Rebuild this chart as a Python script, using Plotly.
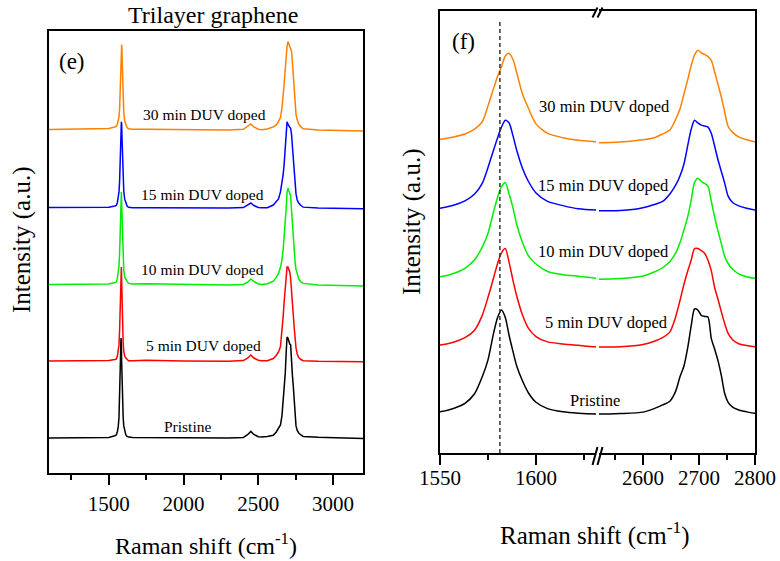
import plotly.graph_objects as go

# ---------------- data ----------------
shift = [1100, 1300, 1500, 1540,
         1550, 1557, 1563, 1568, 1572, 1575, 1578, 1580, 1582, 1584, 1586, 1588, 1590, 1593, 1596, 1600,
         1606, 1614, 1622, 1632,
         1660, 1750, 2000, 2300, 2400, 2430, 2450, 2470, 2500,
         2523, 2560, 2600, 2620, 2635, 2648, 2658, 2666, 2673, 2680, 2686, 2692, 2698, 2704, 2710, 2716,
         2722, 2728, 2734, 2740, 2746, 2752, 2760, 2770, 2785, 2800,
         2900, 3050, 3200]

pristine = [0.0, 0.0, 0.006, 0.022,
            0.03, 0.062, 0.11, 0.2, 0.36, 0.52, 0.78, 0.92, 0.99, 0.92, 0.75, 0.6, 0.46, 0.32, 0.21, 0.12,
            0.06, 0.03, 0.017, 0.009,
            0.006, 0.005, 0.002, 0.0, 0.006, 0.035, 0.065, 0.035, 0.012,
            0.009, 0.014, 0.027, 0.06, 0.095, 0.13, 0.22, 0.36, 0.46, 0.64, 0.84, 1.0, 0.99, 0.94, 0.93, 0.925,
            0.72, 0.62, 0.51, 0.37, 0.2, 0.12, 0.075, 0.05, 0.03, 0.016,
            0.008, 0.002, -0.004]

duv_5min = [0.0, 0.0, 0.005, 0.015,
            0.02, 0.047, 0.09, 0.16, 0.3, 0.47, 0.66, 0.79, 0.89, 0.93, 0.8, 0.63, 0.48, 0.3, 0.18, 0.1,
            0.05, 0.03, 0.017, 0.003,
            0.004, 0.008, 0.0, -0.002, 0.005, 0.03, 0.06, 0.03, 0.008,
            0.002, 0.004, 0.025, 0.055, 0.09, 0.144, 0.28, 0.44, 0.59, 0.72, 0.82, 0.93, 0.93, 0.91, 0.885, 0.82,
            0.72, 0.56, 0.45, 0.33, 0.22, 0.13, 0.07, 0.035, 0.015, 0.003,
            -0.003, -0.005, -0.008]

duv_10min = [0.005, 0.005, 0.01, 0.024,
             0.03, 0.06, 0.11, 0.19, 0.31, 0.44, 0.65, 0.78, 0.88, 0.92, 0.81, 0.68, 0.52, 0.35, 0.23, 0.15,
             0.08, 0.05, 0.035, 0.016,
             0.01, 0.012, 0.005, 0.0, 0.006, 0.03, 0.06, 0.035, 0.01,
             0.006, 0.013, 0.038, 0.075, 0.115, 0.175, 0.25, 0.35, 0.47, 0.6, 0.75, 0.92, 0.96, 0.93, 0.91, 0.885,
             0.74, 0.59, 0.46, 0.34, 0.22, 0.155, 0.1, 0.06, 0.03, 0.016,
             0.0, -0.005, -0.01]

duv_15min = [0.005, 0.005, 0.008, 0.02,
             0.025, 0.053, 0.095, 0.16, 0.26, 0.41, 0.58, 0.69, 0.79, 0.855, 0.83, 0.71, 0.57, 0.4, 0.28, 0.17,
             0.09, 0.05, 0.02, 0.008,
             0.004, 0.003, 0.0, 0.0, 0.005, 0.03, 0.05, 0.025, 0.005,
             0.002, 0.004, 0.03, 0.06, 0.09, 0.16, 0.24, 0.33, 0.44, 0.62, 0.77, 0.855, 0.83, 0.81, 0.8, 0.79,
             0.73, 0.61, 0.48, 0.37, 0.26, 0.14, 0.08, 0.05, 0.025, 0.009,
             0.0, -0.005, -0.008]

duv_30min = [0.005, 0.008, 0.015, 0.03,
             0.035, 0.057, 0.085, 0.13, 0.2, 0.35, 0.52, 0.63, 0.72, 0.82, 0.845, 0.79, 0.66, 0.46, 0.33, 0.18,
             0.09, 0.05, 0.025, 0.012,
             0.008, 0.006, 0.003, 0.0, 0.006, 0.035, 0.06, 0.03, 0.008,
             0.003, 0.01, 0.03, 0.05, 0.085, 0.123, 0.22, 0.32, 0.46, 0.6, 0.73, 0.83, 0.875, 0.85, 0.835, 0.815,
             0.78, 0.67, 0.55, 0.43, 0.29, 0.155, 0.1, 0.06, 0.03, 0.012,
             0.0, -0.004, -0.01]

series_names = ["Pristine", "5 min DUV doped", "10 min DUV doped", "15 min DUV doped", "30 min DUV doped"]
series_values = [pristine, duv_5min, duv_10min, duv_15min, duv_30min]
series_colors = ["#000000", "#FF0000", "#00EE00", "#0000FF", "#FF8000"]

offsets_e = [0.0, 0.762, 1.515, 2.277, 3.05]     # vertical stacking, panel (e)
offsets_f = [0.0, 0.64, 1.274, 1.925, 2.566]     # vertical stacking, panel (f)

g_reference = 1581.2                                # dashed reference line, panel (f)

ticks_e = [1500, 2000, 2500, 3000]
minor_e = [1250, 1750, 2250, 2750]
ticks_f1 = [1550, 1600]
minor_f1 = [1575, 1625]
ticks_f2 = [2600, 2700, 2800]
minor_f2 = [2550, 2650, 2750]

for v in series_values:
    assert len(v) == len(shift)

# ---------------- layout helpers ----------------
W, H = 780, 561
def PX(x):
    return x / W
def PY(y):
    return 1 - y / H

FONT = "Liberation Serif, Times New Roman, serif"

fig = go.Figure()

for name, vals, col, oe, of in zip(series_names, series_values, series_colors, offsets_e, offsets_f):
    fig.add_trace(go.Scatter(x=shift, y=[v + oe for v in vals], mode="lines",
                             line=dict(color=col, width=1.5), name=name,
                             xaxis="x", yaxis="y", showlegend=False, hoverinfo="skip"))
    for xa, ya in (("x2", "y2"), ("x3", "y3")):
        fig.add_trace(go.Scatter(x=shift, y=[v + of for v in vals], mode="lines",
                                 line=dict(color=col, width=1.5, shape="spline", smoothing=0.7), name=name,
                                 xaxis=xa, yaxis=ya, showlegend=False, hoverinfo="skip"))

tickfont = dict(family=FONT, size=21, color="black")
common_x = dict(showgrid=False, zeroline=False, showline=True, linecolor="black", linewidth=2,
                ticks="outside", ticklen=10, tickwidth=2, tickcolor="black", tickfont=tickfont,
                automargin=False, fixedrange=True)
common_y = dict(showgrid=False, zeroline=False, showline=True, linecolor="black", linewidth=2,
                ticks="", showticklabels=False, automargin=False, fixedrange=True)

# panel (e)
yE_bot, yE_top = 473, 31
fig.update_layout(
    xaxis=dict(domain=[PX(49), PX(363)], range=[1100, 3200], anchor="y", mirror=True,
               tickvals=ticks_e, ticktext=[str(t) for t in ticks_e],
               minor=dict(tickvals=minor_e, ticks="outside", ticklen=5, tickwidth=2, tickcolor="black"),
               ticklabelstandoff=1, **common_x),
    xaxis4=dict(domain=[PX(49), PX(363)], range=[1100, 3200], anchor="y", overlaying="x", side="top",
                showgrid=False, zeroline=False, showline=False, ticks="inside", ticklen=4, tickwidth=1.5,
                tickcolor="black", tickvals=ticks_e + minor_e, showticklabels=False, fixedrange=True),
    yaxis=dict(domain=[PY(yE_bot), PY(yE_top)], range=[-0.3465, 4.03], anchor="x", mirror=True, **common_y),
)

# panel (f) with broken axis
yF_bot, yF_top = 453, 11
fig.update_layout(
    xaxis2=dict(domain=[PX(440), PX(596)], range=[1550, 1631.25], anchor="y2", mirror=True,
                tickvals=ticks_f1, ticktext=[str(t) for t in ticks_f1],
                minor=dict(tickvals=minor_f1, ticks="outside", ticklen=5, tickwidth=2, tickcolor="black"),
                ticklabelstandoff=-5, **common_x),
    xaxis3=dict(domain=[PX(599), PX(755)], range=[2521.4, 2800], anchor="y3", mirror=True,
                tickvals=ticks_f2, ticktext=[str(t) for t in ticks_f2],
                minor=dict(tickvals=minor_f2, ticks="outside", ticklen=5, tickwidth=2, tickcolor="black"),
                ticklabelstandoff=-5, **common_x),
    yaxis2=dict(domain=[PY(yF_bot), PY(yF_top)], range=[-0.3585, 3.811], anchor="x2", side="left", **common_y),
    yaxis3=dict(domain=[PY(yF_bot), PY(yF_top)], range=[-0.3585, 3.811], anchor="x3", side="right", **common_y),
)

shapes = [
    dict(type="line", xref="x2", yref="y2", x0=g_reference, x1=g_reference, y0=-0.3585, y1=3.71,
         line=dict(color="#333333", width=1.5, dash="4px,3px")),
]
# break marks
for yb, h in [(456, 9), (12.5, 5)]:
    for xc in (595, 600):
        shapes.append(dict(type="line", xref="paper", yref="paper",
                           x0=PX(xc - 2.5), y0=PY(yb + h), x1=PX(xc + 2.5), y1=PY(yb - h),
                           line=dict(color="black", width=2)))
fig.update_layout(shapes=shapes)

ann = []
def text(x, y, s, size, angle=0):
    ann.append(dict(x=PX(x), y=PY(y), xref="paper", yref="paper", text=s, showarrow=False,
                    xanchor="center", yanchor="middle", textangle=angle,
                    font=dict(family=FONT, size=size, color="black")))

text(213, 15, "Trilayer graphene", 24)
text(72, 61, "(e)", 23)
text(463, 41, "(f)", 23)
text(206, 544, "Raman shift (cm<sup>-1</sup>)", 24)
text(595, 533, "Raman shift (cm<sup>-1</sup>)", 25)
text(22, 240, "Intensity (a.u.)", 25, -90)
text(412, 222, "Intensity (a.u.)", 25, -90)

label_pos_e = [(187, 426), (203, 346), (202, 270), (202, 194), (204, 114)]
label_pos_f = [(595, 400), (606, 322), (603, 251), (603, 185), (604, 107)]
for name, (x, y) in zip(series_names, label_pos_e):
    text(x, y, name, 15.5)
for name, (x, y) in zip(series_names, label_pos_f):
    text(x, y, name, 16.5)

fig.update_layout(annotations=ann, width=W, height=H, margin=dict(l=0, r=0, t=0, b=0),
                  paper_bgcolor="white", plot_bgcolor="white", showlegend=False)

fig.write_html("out.html")
